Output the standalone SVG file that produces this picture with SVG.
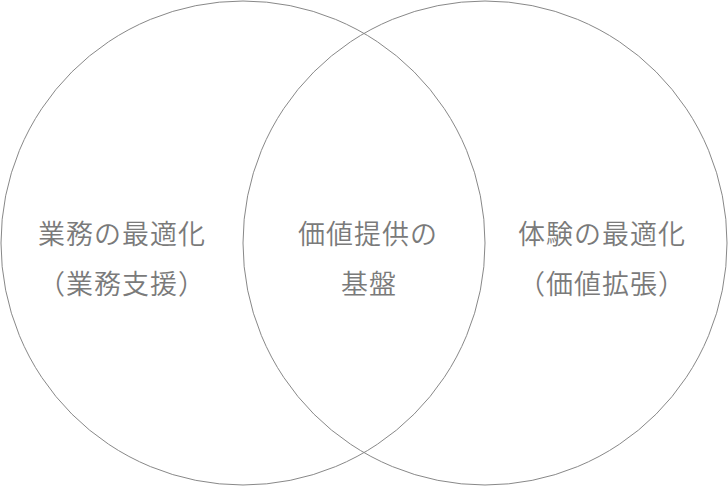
<svg xmlns="http://www.w3.org/2000/svg" width="728" height="486" viewBox="0 0 728 486">
<style>
.c{fill:none;stroke:#888;stroke-width:1}
.t{font-family:"Noto Sans CJK JP","Noto Sans",sans-serif;font-size:27px;fill:#7a7a7a;text-anchor:middle;letter-spacing:1px;font-weight:350}
</style>
<rect width="728" height="486" fill="#fff"/>
<g id="left">
<circle class="c" cx="243" cy="243" r="242"/>
<text class="t" x="122" y="244">業務の最適化</text>
<text class="t" x="122" y="294">（業務支援）</text>
</g>
<g id="right">
<circle class="c" cx="485" cy="243" r="242"/>
<text class="t" x="602" y="244">体験の最適化</text>
<text class="t" x="602" y="294">（価値拡張）</text>
</g>
<g id="center">
<text class="t" x="368" y="244">価値提供の</text>
<text class="t" x="369" y="294">基盤</text>
</g>
<g id="connectors"/>
</svg>
